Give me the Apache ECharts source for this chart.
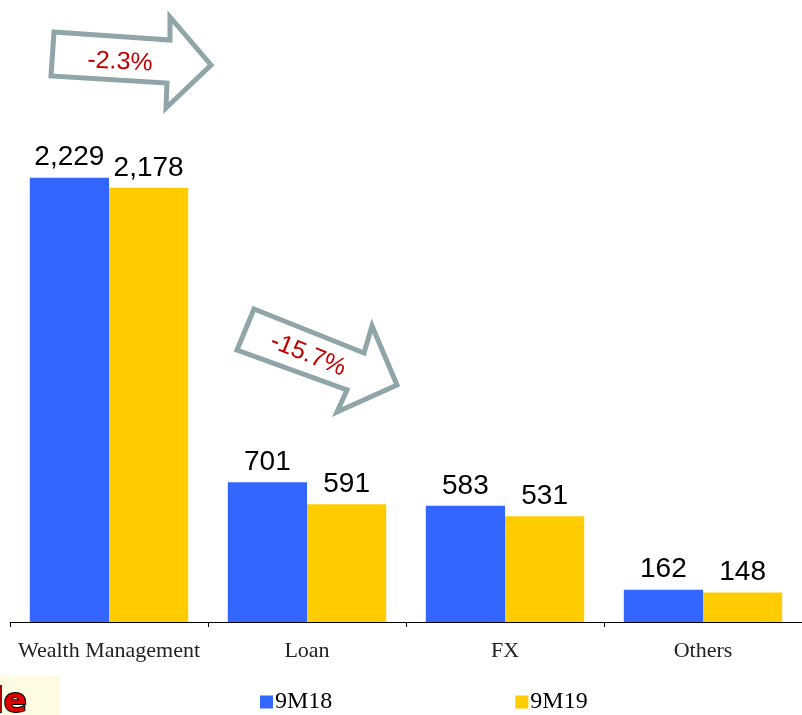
<!DOCTYPE html>
<html>
<head>
<meta charset="utf-8">
<script src="https://cdn.jsdelivr.net/npm/echarts@6/dist/echarts.min.js"></script>
<style>
  html, body { margin: 0; padding: 0; background: #fff; }
  #chart { width: 802px; height: 715px; }
</style>
</head>
<body>
<div id="chart"></div>
<script>
var categories = ['Wealth Management', 'Loan', 'FX', 'Others'];
var seriesNames = ['9M18', '9M19'];
var values9M18 = [2229, 701, 583, 162];
var values9M19 = [2178, 591, 531, 148];
var changeLabels = ['-2.3%', '-15.7%'];

var myChart = echarts.init(document.getElementById('chart'));

var labelStyle = {
    show: true,
    position: 'top',
    distance: 6,
    fontFamily: 'Liberation Sans, Arial',
    fontSize: 28,
    color: '#000',
    formatter: function (p) { return p.value.toLocaleString('en-US'); }
};

var arrowStyle = { fill: '#fff', stroke: '#8fa5a8', lineWidth: 5, lineJoin: 'miter' };

var option = {
    animation: false,
    grid: { left: 10, right: 0, top: 24, bottom: 93 },
    legend: {
        data: seriesNames,
        left: 255,
        bottom: -4,
        itemWidth: 13,
        itemHeight: 13,
        itemGap: 183,
        icon: 'rect',
        textStyle: { fontFamily: 'Liberation Serif, Times New Roman', fontSize: 24, color: '#000', padding: [0, 0, 0, -3] }
    },
    xAxis: {
        type: 'category',
        data: categories,
        axisLine: { lineStyle: { color: '#000', width: 1 } },
        axisTick: { show: true, interval: 0, length: 5, lineStyle: { color: '#000' } },
        axisLabel: { interval: 0, margin: 18, fontFamily: 'Liberation Serif, Times New Roman', fontSize: 22, color: '#222' }
    },
    yAxis: {
        type: 'value',
        min: 0,
        max: 3000,
        show: false,
        splitLine: { show: false }
    },
    series: [
        {
            name: seriesNames[0],
            type: 'bar',
            data: values9M18,
            barGap: 0,
            barCategoryGap: '20%',
            itemStyle: { color: '#3366ff' },
            label: labelStyle
        },
        {
            name: seriesNames[1],
            type: 'bar',
            data: values9M19,
            itemStyle: { color: '#ffcc00' },
            label: labelStyle
        }
    ],
    graphic: [
        {
            type: 'polygon',
            shape: { points: [[54, 32], [170, 40], [170, 17], [211, 65], [166, 108], [167, 83], [51, 76]] },
            style: arrowStyle
        },
        {
            type: 'text',
            x: 120, y: 62,
            rotation: -0.05,
            style: { text: changeLabels[0], fill: '#c00000', fontFamily: 'Liberation Sans, Arial', fontSize: 25, align: 'center', verticalAlign: 'middle' }
        },
        {
            type: 'polygon',
            shape: { points: [[254, 309], [364, 353], [372, 326], [397, 385], [337, 412], [347, 390], [237, 350]] },
            style: arrowStyle
        },
        {
            type: 'text',
            x: 308, y: 355,
            rotation: -0.38,
            style: { text: changeLabels[1], fill: '#c00000', fontFamily: 'Liberation Sans, Arial', fontSize: 25, align: 'center', verticalAlign: 'middle' }
        },
        {
            type: 'rect',
            shape: { x: 0, y: 676, width: 60, height: 40 },
            style: { fill: '#fdfbe2' }
        },
        {
            type: 'text',
            x: -8, y: 720,
            style: { text: 'le', fill: '#e00000', stroke: '#000', lineWidth: 2, fontFamily: 'DejaVu Sans', fontWeight: 'bold', fontSize: 34, verticalAlign: 'bottom' }
        }
    ]
};

myChart.setOption(option);
</script>
</body>
</html>
